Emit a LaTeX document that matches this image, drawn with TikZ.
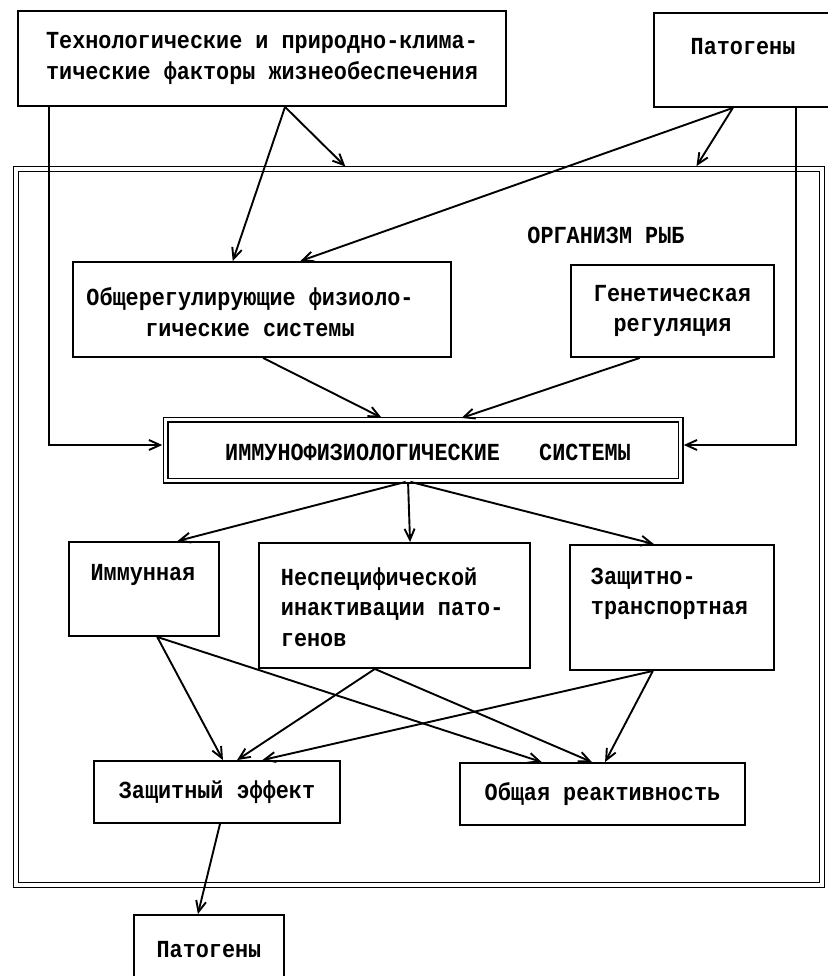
\documentclass[tikz,border=0pt]{standalone}
\usepackage{fontspec}
\newfontfamily\monofnt[FakeStretch=0.89]{Liberation Mono}
\usetikzlibrary{arrows.meta,calc}
\begin{document}
\begin{tikzpicture}[x=1pt,y=-1pt,
  line width=1.9pt,
  txt/.style={font=\monofnt\bfseries\fontsize{24.5pt}{30.5pt}\selectfont, inner sep=0pt},
  box/.style={draw, rectangle, txt},
  dbox/.style={draw, rectangle, txt, double, double distance=3pt, line width=1.5pt},
  arr/.style={-{Straight Barb[length=11pt,width=10pt]}},
]
\useasboundingbox (0,0) rectangle (827,976);

% outer organism frame
\node[dbox, double distance=3.5pt, minimum width=806pt, minimum height=716pt] (org) at (419,527) {};
\node[txt] (orgT) at (606,235) {ОРГАНИЗМ РЫБ};

% top boxes
\node[box, minimum width=488pt, minimum height=95pt, align=center] (tech) at (262,58.5)
  {Технологические и природно-клима-\\тические факторы жизнеобеспечения};
\node[box, minimum width=175pt, minimum height=94pt] (patT) at (741.5,60) {};
\node[txt] (patTt) at (743,47) {Патогены};

% regulation boxes
\node[box, minimum width=378pt, minimum height=95pt] (obsh) at (262,309.5) {};
\node[txt, align=center] (obshT) at (250,312) {Общерегулирующие физиоло-\\гические системы};
\node[box, minimum width=203pt, minimum height=92pt, align=center] (gen) at (672.5,311)
  {Генетическая\\регуляция};

% immunophysiological systems
\node[dbox, minimum width=515pt, minimum height=61pt] (imf) at (423,450) {};
\node[txt] (imfT) at (428,452) {ИММУНОФИЗИОЛОГИЧЕСКИЕ\ \ \ СИСТЕМЫ};

% three systems
\node[box, minimum width=150pt, minimum height=94pt] (imm) at (144,589) {};
\node[txt] (immT) at (143,575) {Иммунная};
\node[box, minimum width=271pt, minimum height=125pt] (nesp) at (394.5,605.5) {};
\node[txt, align=left, anchor=west] (nespT) at (280,607) {Неспецифической\\инактивации пато-\\генов};
\node[box, minimum width=204pt, minimum height=125pt] (zash) at (672,607.5) {};
\node[txt, align=left, anchor=west] (zashT) at (590,594) {Защитно-\\транспортная};

% effects
\node[box, minimum width=246pt, minimum height=62pt] (ze) at (217,792) {Защитный эффект};
\node[box, minimum width=285pt, minimum height=62pt] (reak) at (602.5,794) {Общая реактивность};
\node[box, minimum width=150pt, minimum height=70pt] (patB) at (209,950) {Патогены};

% connection points
\coordinate (t1) at ($(tech.south west)!0.547!(tech.south east)$);
\coordinate (t0) at ($(tech.south west)!0.0656!(tech.south east)$);
\coordinate (p1) at ($(patT.south west)!0.451!(patT.south east)$);
\coordinate (p0) at ($(patT.south west)!0.806!(patT.south east)$);
\coordinate (o1) at ($(org.north west)!0.411!(org.north east)$);
\coordinate (o2) at ($(org.north west)!0.842!(org.north east)$);
\coordinate (b1) at ($(obsh.north west)!0.423!(obsh.north east)$);
\coordinate (b2) at ($(obsh.north west)!0.601!(obsh.north east)$);
\coordinate (bs) at ($(obsh.south west)!0.503!(obsh.south east)$);
\coordinate (gs) at ($(gen.south west)!0.34!(gen.south east)$);
\coordinate (i1) at ($(imf.north west)!0.424!(imf.north east)$);
\coordinate (i2) at ($(imf.north west)!0.57!(imf.north east)$);
\coordinate (il) at ($(imf.west)+(0,-5)$);
\coordinate (ir) at ($(imf.east)+(0,-5)$);
\coordinate (is) at ($(imf.south west)!0.471!(imf.south east)$);
\coordinate (mn) at ($(imm.north west)!0.72!(imm.north east)$);
\coordinate (nn) at ($(nesp.north west)!0.557!(nesp.north east)$);
\coordinate (zn) at ($(zash.north west)!0.412!(zash.north east)$);
\coordinate (ms) at ($(imm.south west)!0.587!(imm.south east)$);
\coordinate (ns) at ($(nesp.south west)!0.428!(nesp.south east)$);
\coordinate (zs) at ($(zash.south west)!0.407!(zash.south east)$);
\coordinate (e1) at ($(ze.north west)!0.524!(ze.north east)$);
\coordinate (e2) at ($(ze.north west)!0.581!(ze.north east)$);
\coordinate (e3) at ($(ze.north west)!0.683!(ze.north east)$);
\coordinate (r1) at ($(reak.north west)!0.288!(reak.north east)$);
\coordinate (r2) at ($(reak.north west)!0.463!(reak.north east)$);
\coordinate (r3) at ($(reak.north west)!0.509!(reak.north east)$);
\coordinate (es) at ($(ze.south west)!0.512!(ze.south east)$);
\coordinate (pn) at ($(patB.north west)!0.427!(patB.north east)$);

% connectors
\draw[arr, shorten >=2.5pt] (t1) -- (o1);
\draw[arr] (t1) -- (b1);
\draw[arr, shorten >=2.5pt] (p1) -- (o2);
\draw[arr] (p1) -- (b2);
\draw[arr, shorten >=2.5pt] (t0) |- (il);
\draw[arr, shorten >=2.5pt] (p0) |- (ir);
\draw[arr, shorten >=2.5pt] (bs) -- (i1);
\draw[arr, shorten >=2.5pt] (gs) -- (i2);
\draw[arr, shorten <=2.5pt] (is) -- (mn);
\draw[arr, shorten <=2.5pt] (is) -- (nn);
\draw[arr, shorten <=2.5pt] (is) -- (zn);
\draw[arr] (ms) -- (e1);
\draw[arr] (ms) -- (r1);
\draw[arr] (ns) -- (e2);
\draw[arr] (ns) -- (r2);
\draw[arr] (zs) -- (e3);
\draw[arr] (zs) -- (r3);
\draw[arr] (es) -- (pn);
\end{tikzpicture}
\end{document}
